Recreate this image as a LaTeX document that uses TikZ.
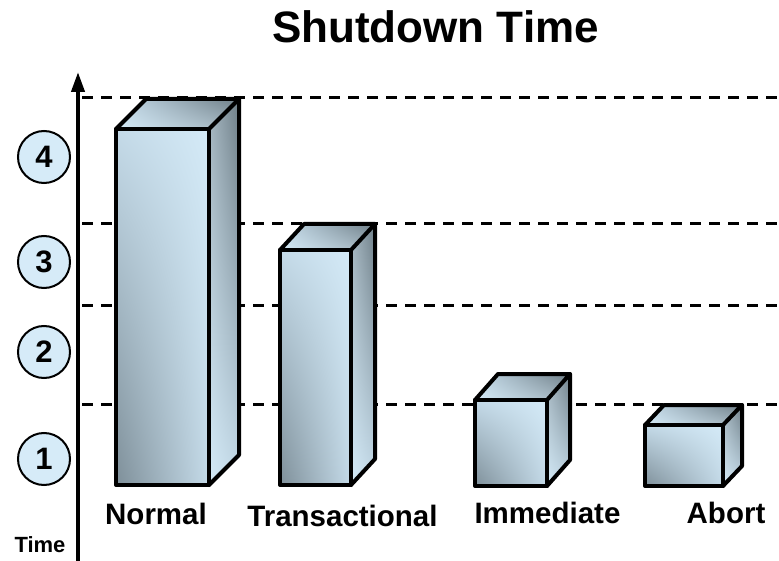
\documentclass[tikz,border=0pt]{standalone}
\usepackage{fontspec}
\setmainfont{Liberation Sans}
\usetikzlibrary{arrows.meta,shadings}

\definecolor{facelight}{HTML}{D4EAF7}
\definecolor{facemid}{HTML}{C4DAE8}
\definecolor{facedark}{HTML}{7E8F99}
\definecolor{sidegrey}{HTML}{A3B4BE}
\definecolor{sidedark}{HTML}{6E7E87}
\definecolor{discfill}{HTML}{D6EBF8}

% one cuboid: left, right, top, bottom of the front face, then depth dx, dy
\newcommand\cuboid[6]{%
  \shade[upper left=facemid, upper right=facelight,
         lower left=facedark, lower right=facemid]
    (#1,#3) rectangle (#2,#4);
  \shade[upper left=sidegrey, upper right=sidedark,
         lower left=facelight, lower right=facemid]
    (#2,#3) -- (#2+#5,#3-#6) -- (#2+#5,#4-#6) -- (#2,#4) -- cycle;
  \shade[upper left=facemid, upper right=sidedark,
         lower left=facelight, lower right=sidegrey]
    (#1,#3) -- (#1+#5,#3-#6) -- (#2+#5,#3-#6) -- (#2,#3) -- cycle;
  \draw[edge] (#1,#3) rectangle (#2,#4);
  \draw[edge] (#1,#3) -- (#1+#5,#3-#6) -- (#2+#5,#3-#6) -- (#2,#3);
  \draw[edge] (#2+#5,#3-#6) -- (#2+#5,#4-#6) -- (#2,#4);
}

\tikzset{
  edge/.style={line width=4pt, line join=round, line cap=round},
  level/.style={line width=3pt, dash pattern=on 11pt off 8pt},
  disc/.style={circle, draw, line width=2pt, fill=discfill,
    minimum size=52pt, inner sep=0pt,
    font=\fontsize{31}{31}\selectfont\bfseries},
  barlabel/.style={font=\fontsize{29.5}{29.5}\selectfont\bfseries, inner sep=0pt},
}

\begin{document}
\begin{tikzpicture}[x=1pt, y=-1pt]
\useasboundingbox (0,0) rectangle (779,561);

% title
\node[font=\fontsize{44}{44}\selectfont\bfseries, inner sep=0pt] (title) at (435.5,27) {Shutdown Time};

% dashed level lines
\foreach \yy/\nm in {98/l4, 224/l3, 306/l2, 404/l1} {
  \coordinate (\nm a) at (82,\yy);
  \coordinate (\nm b) at (779,\yy);
  \draw[level] (\nm a) -- (\nm b);
}

% time axis
\coordinate (axisbot) at (78,561);
\coordinate (axistop) at (78,72);
\draw[line width=4pt, -{Triangle[length=20pt, width=13pt]}] (axisbot) -- (axistop);
\node[font=\fontsize{22}{22}\selectfont\bfseries, inner sep=0pt] (timelbl) at (40,545) {Time};

% numbered discs
\node[disc] (d4) at (44,157) {4};
\node[disc] (d3) at (44,262) {3};
\node[disc] (d2) at (44,352) {2};
\node[disc] (d1) at (44,459) {1};

% bars
\cuboid{116}{209}{129}{485}{30}{30}
\cuboid{280}{351}{250}{485}{24}{26}
\cuboid{475}{547}{400}{486}{23}{26}
\cuboid{645}{723}{425}{486}{19}{20}

% bar labels
\node[barlabel] (normal) at (156,514) {Normal};
\node[barlabel] (trans) at (342.5,516) {Transactional};
\node[barlabel] (immed) at (547.5,513) {Immediate};
\node[barlabel] (abort) at (726,513) {Abort};
\end{tikzpicture}
\end{document}
